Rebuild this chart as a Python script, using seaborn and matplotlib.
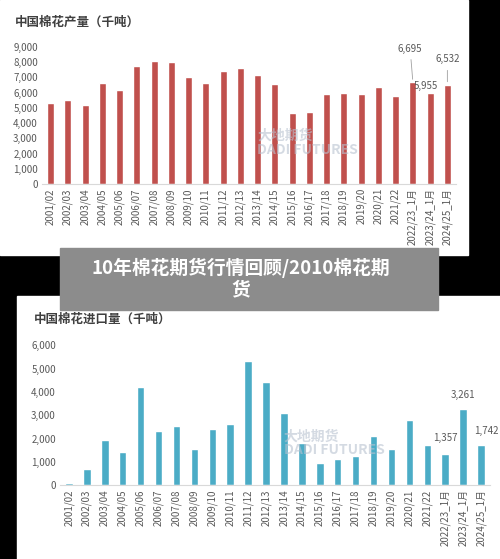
import numpy as np
import pandas as pd
import seaborn as sns
import matplotlib.pyplot as plt
from matplotlib.patches import Rectangle

sns.set_style('white')
plt.rcParams['font.family'] = ['Noto Sans CJK SC', 'DejaVu Sans']

seasons = ['2001/02', '2002/03', '2003/04', '2004/05', '2005/06', '2006/07', '2007/08',
           '2008/09', '2009/10', '2010/11', '2011/12', '2012/13', '2013/14', '2014/15',
           '2015/16', '2016/17', '2017/18', '2018/19', '2019/20', '2020/21', '2021/22',
           '2022/23_1月', '2023/24_1月', '2024/25_1月']
production = [5300, 5500, 5200, 6600, 6200, 7750, 8050, 8000, 7000, 6650, 7400, 7620,
              7130, 6550, 4650, 4700, 5900, 5950, 5900, 6400, 5800, 6695, 5955, 6532]
imports = [100, 700, 1950, 1420, 4230, 2330, 2530, 1540, 2400, 2620, 5330, 4430,
           3090, 1830, 970, 1120, 1270, 2130, 1560, 2790, 1720, 1357, 3261, 1742]

W, H = 500, 559
fig = plt.figure(figsize=(W / 100, H / 100), dpi=100, facecolor='black')

def box(x, y, w, h, color, z):
    fig.patches.append(Rectangle((x / W, 1 - (y + h) / H), w / W, h / H,
                                 transform=fig.transFigure, color=color, zorder=z))

box(0, 0, 468, 255, 'white', -10)
box(17, 296, 483, 263, 'white', -10)

def panel(rect, values, color, yticks, labels, title, title_xy):
    ax = fig.add_axes(rect)
    df = pd.DataFrame({'season': seasons, 'value': values})
    sns.barplot(data=df, x='season', y='value', color=color, width=0.42,
                saturation=1, ax=ax)
    ax.set_facecolor('none')
    ax.set_ylim(0, yticks[-1])
    ax.set_yticks(yticks)
    ax.set_yticklabels([f'{v:,}' for v in yticks], fontsize=7, color='#595959')
    ax.set_xticks(range(len(seasons)))
    ax.set_xticklabels(seasons, rotation=90, fontsize=7, color='#595959')
    ax.set_xlabel('')
    ax.set_ylabel('')
    ax.tick_params(length=0, pad=3)
    for s in ['top', 'right', 'left']:
        ax.spines[s].set_visible(False)
    ax.spines['bottom'].set_color('#d9d9d9')
    ax.text(0.52, 0.22, '大地期货\nDADI FUTURES', transform=ax.transAxes, ha='left',
            fontsize=10, fontweight='bold', color='#b8c2d0', alpha=0.6, zorder=5,
            linespacing=1.0)
    fig.text(title_xy[0] / W, 1 - title_xy[1] / H, title, fontsize=9,
             fontweight='bold', color='#404040', va='center')
    for i, (off, line) in labels.items():
        ax.annotate(f'{values[i]:,}', (i, values[i]), xytext=off,
                    textcoords='offset points', ha='center', fontsize=7,
                    color='#595959',
                    arrowprops=dict(arrowstyle='-', color='#a0a0a0', lw=0.6) if line else None)
    return ax

panel([0.084, 0.671, 0.828, 0.245], production, '#C0504D',
      list(range(0, 9001, 1000)),
      {21: ((-2, 22), True), 22: ((-3, 3), False), 23: ((0, 16), True)},
      '中国棉花产量（千吨）', (15, 22))
panel([0.12, 0.132, 0.86, 0.25], imports, '#4BACC6',
      list(range(0, 6001, 1000)),
      {21: ((0, 9), False), 22: ((0, 8), False), 23: ((4, 8), False)},
      '中国棉花进口量（千吨）', (34, 319))

box(60, 248, 378, 62, '#8c8c8c', 10)
fig.text(241 / W, 1 - 279 / H, '10年棉花期货行情回顾/2010棉花期\n货', ha='center',
         va='center', fontsize=13.5, fontweight='bold', color='white',
         linespacing=1.15, zorder=11)

fig.savefig('out.png', dpi=100, facecolor='black')
